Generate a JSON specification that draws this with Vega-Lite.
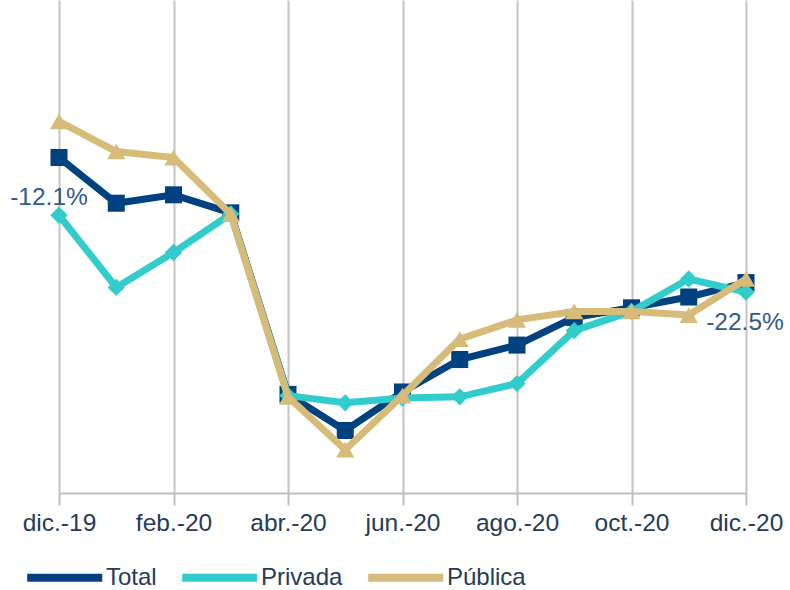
{
  "$schema": "https://vega.github.io/schema/vega-lite/v6.json",
  "width": 687,
  "height": 493,
  "autosize": "none",
  "padding": {"left": 59, "right": 44, "top": 0, "bottom": 97},
  "background": "white",
  "config": {
    "view": {"stroke": null},
    "font": "Liberation Sans"
  },
  "data": {
    "values": [
      {"mes": "dic.-19", "serie": "Total", "valor": -12.1, "etiqueta": "-12.1%"},
      {"mes": "ene.-20", "serie": "Total", "valor": -15.9},
      {"mes": "feb.-20", "serie": "Total", "valor": -15.2},
      {"mes": "mar.-20", "serie": "Total", "valor": -16.7},
      {"mes": "abr.-20", "serie": "Total", "valor": -31.8},
      {"mes": "may.-20", "serie": "Total", "valor": -34.8},
      {"mes": "jun.-20", "serie": "Total", "valor": -31.6},
      {"mes": "jul.-20", "serie": "Total", "valor": -28.9},
      {"mes": "ago.-20", "serie": "Total", "valor": -27.7},
      {"mes": "sep.-20", "serie": "Total", "valor": -25.4},
      {"mes": "oct.-20", "serie": "Total", "valor": -24.6},
      {"mes": "nov.-20", "serie": "Total", "valor": -23.7},
      {"mes": "dic.-20", "serie": "Total", "valor": -22.5, "etiqueta": "-22.5%"},
      {"mes": "dic.-19", "serie": "Privada", "valor": -16.9},
      {"mes": "ene.-20", "serie": "Privada", "valor": -22.9},
      {"mes": "feb.-20", "serie": "Privada", "valor": -20.0},
      {"mes": "mar.-20", "serie": "Privada", "valor": -16.8},
      {"mes": "abr.-20", "serie": "Privada", "valor": -31.9},
      {"mes": "may.-20", "serie": "Privada", "valor": -32.5},
      {"mes": "jun.-20", "serie": "Privada", "valor": -32.1},
      {"mes": "jul.-20", "serie": "Privada", "valor": -32.0},
      {"mes": "ago.-20", "serie": "Privada", "valor": -30.9},
      {"mes": "sep.-20", "serie": "Privada", "valor": -26.5},
      {"mes": "oct.-20", "serie": "Privada", "valor": -24.9},
      {"mes": "nov.-20", "serie": "Privada", "valor": -22.2},
      {"mes": "dic.-20", "serie": "Privada", "valor": -23.3},
      {"mes": "dic.-19", "serie": "Pública", "valor": -9.1},
      {"mes": "ene.-20", "serie": "Pública", "valor": -11.6},
      {"mes": "feb.-20", "serie": "Pública", "valor": -12.1},
      {"mes": "mar.-20", "serie": "Pública", "valor": -16.8},
      {"mes": "abr.-20", "serie": "Pública", "valor": -32.0},
      {"mes": "may.-20", "serie": "Pública", "valor": -36.4},
      {"mes": "jun.-20", "serie": "Pública", "valor": -31.9},
      {"mes": "jul.-20", "serie": "Pública", "valor": -27.2},
      {"mes": "ago.-20", "serie": "Pública", "valor": -25.6},
      {"mes": "sep.-20", "serie": "Pública", "valor": -24.9},
      {"mes": "oct.-20", "serie": "Pública", "valor": -24.9},
      {"mes": "nov.-20", "serie": "Pública", "valor": -25.2},
      {"mes": "dic.-20", "serie": "Pública", "valor": -22.2}
    ]
  },
  "encoding": {
    "x": {
      "field": "mes",
      "type": "nominal",
      "scale": {
        "type": "point",
        "padding": 0,
        "domain": ["dic.-19", "ene.-20", "feb.-20", "mar.-20", "abr.-20", "may.-20", "jun.-20", "jul.-20", "ago.-20", "sep.-20", "oct.-20", "nov.-20", "dic.-20"]
      },
      "axis": {
        "title": null,
        "values": ["dic.-19", "feb.-20", "abr.-20", "jun.-20", "ago.-20", "oct.-20", "dic.-20"],
        "labelAngle": 0,
        "labelFontSize": 24.5,
        "labelColor": "#243B5A",
        "labelPadding": 6,
        "tickSize": 12,
        "tickColor": "#BFBFBF",
        "tickWidth": 2,
        "domainColor": "#BFBFBF",
        "domainWidth": 2,
        "grid": true,
        "gridColor": "#C4C4C4",
        "gridWidth": 2
      }
    },
    "y": {
      "field": "valor",
      "type": "quantitative",
      "scale": {"domain": [-40, 1], "nice": false, "zero": false},
      "axis": null
    }
  },
  "layer": [
    {
      "transform": [{"filter": "datum.serie === 'Total'"}],
      "layer": [
        {
          "mark": {"type": "line", "strokeWidth": 7},
          "encoding": {
            "color": {
              "field": "serie",
              "type": "nominal",
              "scale": {"domain": ["Total", "Privada", "Pública"], "range": ["#00427F", "#33CCCC", "#D6BC78"]},
              "legend": {
                "title": null,
                "orient": "none",
                "direction": "horizontal",
                "legendX": -32,
                "legendY": 564,
                "symbolType": "M-1.4,0H6.5",
                "symbolSize": 361,
                "symbolStrokeWidth": 8,
                "labelFontSize": 24,
                "labelColor": "#243B5A",
                "labelOffset": 52,
                "columnPadding": 9
              }
            }
          }
        },
        {"mark": {"type": "point", "shape": "square", "filled": true, "opacity": 1, "size": 290, "color": "#00427F"}}
      ]
    },
    {
      "transform": [{"filter": "datum.serie === 'Privada'"}],
      "layer": [
        {
          "mark": {"type": "line", "strokeWidth": 7},
          "encoding": {"color": {"field": "serie", "type": "nominal"}}
        },
        {"mark": {"type": "point", "shape": "diamond", "filled": true, "opacity": 1, "size": 300, "color": "#33CCCC"}}
      ]
    },
    {
      "transform": [{"filter": "datum.serie === 'Pública'"}],
      "layer": [
        {
          "mark": {"type": "line", "strokeWidth": 7},
          "encoding": {"color": {"field": "serie", "type": "nominal"}}
        },
        {"mark": {"type": "point", "shape": "triangle-up", "filled": true, "opacity": 1, "size": 330, "color": "#D6BC78"}}
      ]
    },
    {
      "transform": [{"filter": "datum.etiqueta === '-12.1%'"}],
      "mark": {"type": "text", "fontSize": 24.5, "color": "#2E5A8C", "dy": 40, "dx": -10, "baseline": "middle", "align": "center"},
      "encoding": {"text": {"field": "etiqueta"}}
    },
    {
      "transform": [{"filter": "datum.etiqueta === '-22.5%'"}],
      "mark": {"type": "text", "fontSize": 24.5, "color": "#2E5A8C", "dy": 40, "dx": -1, "baseline": "middle", "align": "center"},
      "encoding": {"text": {"field": "etiqueta"}}
    }
  ]
}
